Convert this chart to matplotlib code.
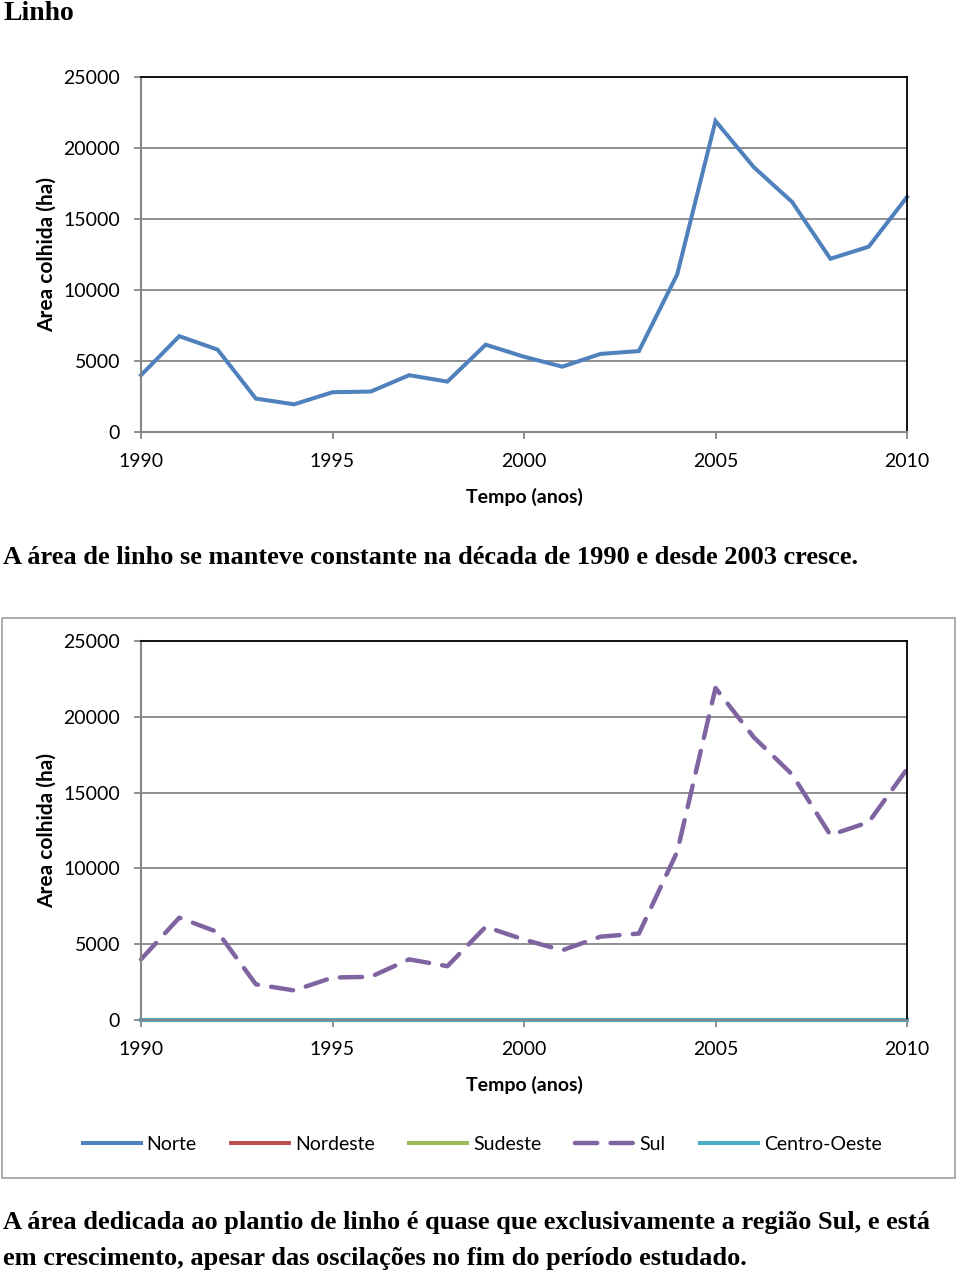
# Área colhida de linho, Brasil 1990-2010: total e por região
import matplotlib.pyplot as plt
from matplotlib.patches import Rectangle

anos = list(range(1990, 2011))
area_total = [4000, 6750, 5800, 2350, 1950, 2800, 2850, 4000, 3550,
              6150, 5300, 4600, 5500, 5700, 11100, 21900, 18650, 16200,
              12200, 13050, 16550]
regioes = ["Norte", "Nordeste", "Sudeste", "Sul", "Centro-Oeste"]
area_norte = [0] * len(anos)
area_nordeste = [0] * len(anos)
area_sudeste = [0] * len(anos)
area_sul = area_total
area_centro_oeste = [0] * len(anos)

cores = ["#4F81BD", "#C0504D", "#9BBB59", "#8064A2", "#4BACC6"]
CINZA = "#868686"
FONTE_GRAF = "Lato"
FONTE_TEXTO = "Liberation Serif"

W, H = 960, 1274


def estilo_eixo(ax):
    ax.set_xlim(1990, 2010)
    ax.set_ylim(0, 25000)
    ax.set_xticks(range(1990, 2011, 5))
    ax.set_yticks(range(0, 25001, 5000))
    ax.grid(axis="y", color=CINZA, linewidth=1.3)
    ax.set_axisbelow(True)
    for lado in ["left", "bottom"]:
        ax.spines[lado].set_color(CINZA)
        ax.spines[lado].set_linewidth(1.5)
    for lado in ["top", "right"]:
        ax.spines[lado].set_color("black")
        ax.spines[lado].set_linewidth(1.3)
    ax.tick_params(axis="both", colors=CINZA, labelcolor="black", length=5,
                   width=1.3, pad=10, labelsize=14)
    for t in ax.get_xticklabels() + ax.get_yticklabels():
        t.set_fontfamily(FONTE_GRAF)
    ax.set_xlabel("Tempo (anos)", fontsize=14, fontweight="bold",
                  family=FONTE_GRAF, labelpad=13)
    ax.set_ylabel("Area colhida (ha)", fontsize=15, fontweight="bold",
                  family=FONTE_GRAF, labelpad=5)


fig = plt.figure(figsize=(W / 100, H / 100), dpi=100)

# título e textos
fig.text(3 / W, 1 - 13 / H, "Linho", fontsize=20, fontweight="bold",
         family=FONTE_TEXTO, va="center", ha="left")
fig.text(3 / W, 1 - 558 / H,
         "A área de linho se manteve constante na década de 1990 e desde 2003 cresce.",
         fontsize=19, fontweight="bold", family=FONTE_TEXTO, va="center", ha="left")
fig.text(3 / W, 1 - 1222 / H,
         "A área dedicada ao plantio de linho é quase que exclusivamente a região Sul, e está",
         fontsize=19, fontweight="bold", family=FONTE_TEXTO, va="center", ha="left")
fig.text(3 / W, 1 - 1258 / H,
         "em crescimento, apesar das oscilações no fim do período estudado.",
         fontsize=19, fontweight="bold", family=FONTE_TEXTO, va="center", ha="left")

# gráfico 1: total
ax1 = fig.add_axes([141 / W, 1 - 432 / H, 766 / W, 355 / H])
ax1.plot(anos, area_total, color=cores[0], linewidth=2.9, clip_on=False,
         solid_joinstyle="miter")
estilo_eixo(ax1)

# gráfico 2: por região
fig.patches.append(Rectangle((2 / W, 1 - 1178 / H), 953 / W, 560 / H,
                             transform=fig.transFigure, fill=False,
                             edgecolor="#A6A6A6", linewidth=1.3))
ax2 = fig.add_axes([141 / W, 1 - 1020 / H, 766 / W, 379 / H])
series = [area_norte, area_nordeste, area_sudeste, area_sul, area_centro_oeste]
for nome, valores, cor in zip(regioes, series, cores):
    if nome == "Sul":
        ax2.plot(anos, valores, color=cor, linewidth=3.2, dashes=(5, 3),
                 dash_capstyle="round", label=nome, clip_on=False)
    else:
        ax2.plot(anos, valores, color=cor, linewidth=2.9, label=nome,
                 clip_on=False)
estilo_eixo(ax2)

fig.legend(loc="center", bbox_to_anchor=(482 / W, 1 - 1144 / H), ncol=5,
           frameon=False, prop={"family": FONTE_GRAF, "size": 14},
           handlelength=3.0, handletextpad=0.3, columnspacing=1.75)

plt.savefig("out.png", dpi=100)
